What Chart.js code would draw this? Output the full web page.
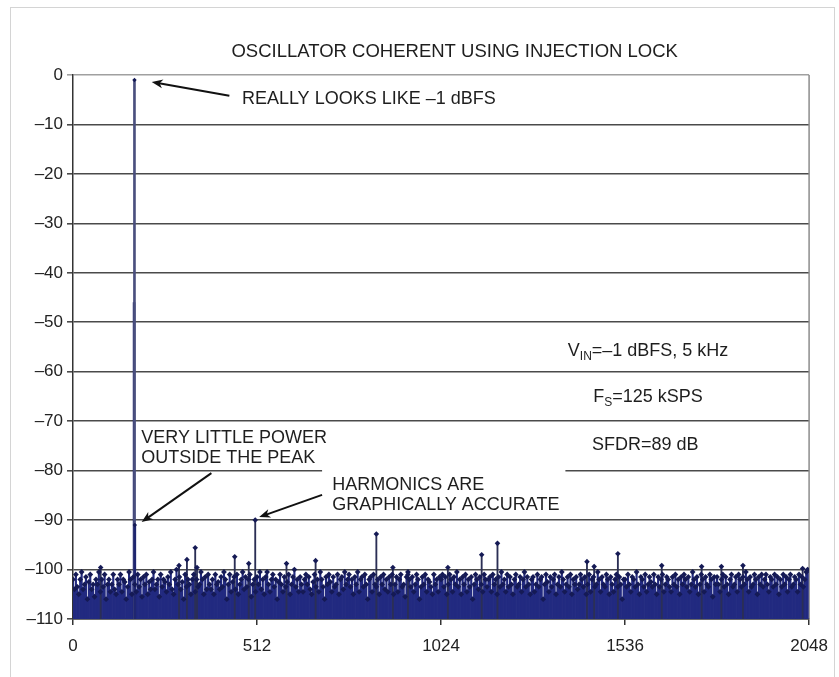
<!DOCTYPE html>
<html>
<head>
<meta charset="utf-8">
<title>Oscillator coherent using injection lock</title>
<script src="https://cdn.jsdelivr.net/npm/chart.js@4.4.1/dist/chart.umd.min.js"></script>
<style>
  html, body { margin: 0; padding: 0; background: #fff; }
  .frame { position: absolute; left: 10px; top: 7px; width: 823px; height: 720px; border: 1px solid #d4d4d4; }
  #fft { position: absolute; left: 0; top: 0; }
</style>
</head>
<body>
<div class="frame"></div>
<canvas id="fft" width="839" height="677"></canvas>
<script>
// FFT bins (x) and levels in dBFS (y)
const xTicks = [0, 512, 1024, 1536, 2048];
const yTicks = [0, -10, -20, -30, -40, -50, -60, -70, -80, -90, -100, -110];
const floorDb = -110;

// carrier, with its skirt bins
const peakBins = [170, 171, 172];
const peakDb = [-46, -1, -91];

// harmonics and larger spurs sticking out of the floor
const spurBins = [77, 295, 317, 340, 345, 450, 489, 507, 594, 675, 844, 890, 932, 1043, 1137, 1181, 1430, 1450, 1516, 1638, 1749, 1804, 1864, 2030];
const spurDb = [-99.6, -99.2, -98, -95.6, -99.6, -97.4, -98.8, -90, -98.8, -98.2, -92.8, -99.6, -101, -99.6, -97, -94.7, -98.4, -99.4, -96.8, -99.2, -99.4, -99.4, -99.2, -99.8];

// noise floor, one value every 4 bins (0 .. 2044)
const noiseStep = 4;
const noiseDb = [
  -102,-104,-101,-103.5,-105,-102,-100.5,-104,-103,-101.5,-106,-102.5,-101,-104,-103,-105.5,-102,-103,-100.5,-104.5,-102,-103.5,-101,-106,-103,-102,-104.5,-103,-101,-104,-105,-102,
  -103,-101,-104.5,-102,-102.5,-106,-103.5,-100.5,-102,-105,-101.5,-103,-104.5,-101,-103.5,-102,-105.5,-101.5,-103,-101,-105,-102.5,-104,-102,-100.5,-104,-103,-102,-105.5,-101,-103.5,-102,
  -102.5,-104.5,-101.5,-103,-100.5,-104,-105,-102,-100,-103,-101.5,-104,-102.5,-106,-101,-103.5,-102,-103,-105,-102,-101,-104.5,-102,-103.5,-103,-100.5,-102,-105,-101.5,-104,-101,-103,
  -104,-102,-105,-101,-103,-102.5,-104,-101.5,-103.5,-100.5,-102,-106,-103,-101,-104.5,-102.5,-101.5,-104,-101,-105,-103,-102,-100.5,-104,-101.5,-103.5,-102,-101,-105.5,-103,-102,-104.5,
  -101.5,-103,-100.5,-104,-102,-105,-101.5,-100.5,-103,-104.5,-102,-101,-103.5,-102,-106,-102.5,-101,-103,-104.5,-101.5,-103.5,-102.5,-101,-105,-103,-101.5,-100,-103.5,-102,-104.5,-101.5,-103,
  -104.5,-102,-101,-103,-101.5,-104,-105,-102.5,-101,-103.5,-102,-104.5,-100.5,-102,-103.5,-106,-101.5,-103,-101,-102.5,-104.5,-101.5,-103.5,-103,-101,-105,-102,-101.5,-104,-100.5,-103,-102,
  -101,-103.5,-102,-105,-101.5,-103,-100.5,-104.5,-102,-101.5,-103.5,-101,-103,-106,-102,-101.5,-104.5,-101,-103,-103.5,-102,-105,-101.5,-103,-101,-104,-102,-104.5,-101.5,-103,-101,-105,
  -103,-101.5,-104.5,-102,-101,-103.5,-103,-105.5,-101.5,-100.5,-102,-103.5,-101.5,-104.5,-103,-101,-102,-106,-103.5,-101.5,-103,-101,-104.5,-102,-102.5,-103.5,-105,-101,-103,-102,-104.5,-101.5,
  -102,-101,-103.5,-101.5,-105,-103,-101,-102,-104.5,-101.5,-103,-100.5,-103.5,-102,-105,-101.5,-103,-101,-104.5,-102,-103.5,-101.5,-106,-103,-101,-102,-104,-101.5,-103,-104.5,-101,-102,
  -103.5,-102,-101.5,-104.5,-101,-103,-102,-105,-101.5,-103.5,-100.5,-103,-102,-104.5,-101,-103.5,-101.5,-103,-105,-102,-101,-103.5,-103,-101.5,-104.5,-102,-100.5,-103.5,-101.5,-103,-105,-102,
  -101.5,-104.5,-103,-101,-103.5,-102,-101.5,-106,-103,-101,-102.5,-104.5,-101.5,-103.5,-102,-101,-105,-103,-101.5,-103.5,-100.5,-102,-104.5,-103,-101.5,-103.5,-101,-105,-102,-103,-101.5,-104,
  -103,-101,-102,-103.5,-101.5,-105,-103,-101,-104.5,-102,-101.5,-103.5,-103,-100.5,-102,-104.5,-101.5,-103,-103.5,-101,-102,-105,-101.5,-103,-104.5,-102,-101,-103.5,-101.5,-103,-106,-102,
  -102,-103.5,-101,-103,-104.5,-101.5,-102,-103.5,-100.5,-103,-105,-101.5,-102,-103.5,-101,-104.5,-103,-101.5,-102.5,-103.5,-101,-103,-105,-101.5,-103.5,-102,-101,-104.5,-103,-101.5,-102,-103.5,
  -104.5,-101.5,-103,-101,-103.5,-102,-105,-101.5,-103,-101,-102,-103.5,-101.5,-104.5,-103,-100.5,-102,-103.5,-101.5,-105,-103,-101,-102,-104.5,-101.5,-103,-103.5,-101,-102,-105.5,-101.5,-103,
  -101.5,-103,-104.5,-102,-101,-103.5,-101.5,-103,-105,-102,-101,-103.5,-103,-101.5,-104.5,-101,-102,-103.5,-101.5,-103,-100.5,-102,-104.5,-101.5,-103.5,-103,-101,-102,-105,-101.5,-103,-101,
  -103.5,-102,-101,-103,-104.5,-101.5,-102,-103.5,-101,-103,-101.5,-105,-102,-103.5,-101,-103,-101.5,-104.5,-102,-101,-103.5,-103,-101.5,-102,-104.5,-101,-103,-101.5,-103.5,-102,-100.5,-100
];

const NAVY = '#222a80';
const DARK = '#151a55';
const FONT = '"Liberation Sans", Arial, sans-serif';

const stems = (bins, vals) => bins.map((b, i) => ({ x: b, y: [floorDb, vals[i]] }));
const tops = (bins, vals) => bins.map((b, i) => ({ x: b, y: vals[i] }));
const noiseBins = noiseDb.map((v, i) => i * noiseStep);

// annotations, placed in data units (bin, dB)
const notes = [
  { lines: ['OSCILLATOR COHERENT USING INJECTION LOCK'], x: 1062, y: 4.7, align: 'center', size: 18.5 },
  { lines: ['REALLY LOOKS LIKE \u20131 dBFS'], x: 470, y: -4.9, align: 'left', size: 18 },
  { lines: ['VERY LITTLE POWER', 'OUTSIDE THE PEAK'], x: 190, y: -73.4, align: 'left', size: 18 },
  { lines: ['HARMONICS ARE', 'GRAPHICALLY ACCURATE'], x: 721, y: -82.9, align: 'left', size: 18 },
  { lines: ['V|IN|=\u20131 dBFS, 5 kHz'], x: 1600, y: -55.8, align: 'center', size: 18 },
  { lines: ['F|S|=125 kSPS'], x: 1600, y: -65.1, align: 'center', size: 18 },
  { lines: ['SFDR=89 dB'], x: 1592, y: -74.8, align: 'center', size: 18 }
];
const arrows = [
  { from: [435, -4.2], to: [219, -1.4] },
  { from: [385, -80.5], to: [191, -90.4] },
  { from: [693, -84.9], to: [518, -89.4] }
];
const whiteBox = { x0: 693, x1: 1370, y0: -79, y1: -89 };

function drawRich(ctx, str, x, y, size, align) {
  // "A|sub|B" -> A, subscript sub, B
  const parts = str.split('|');
  const big = size + 'px ' + FONT, small = Math.round(size * 0.68) + 'px ' + FONT;
  const widths = parts.map((p, i) => { ctx.font = i % 2 ? small : big; return ctx.measureText(p).width; });
  const total = widths.reduce((a, b) => a + b, 0);
  let cx = align === 'center' ? x - total / 2 : x;
  ctx.textAlign = 'left';
  parts.forEach((p, i) => {
    ctx.font = i % 2 ? small : big;
    ctx.fillText(p, cx, i % 2 ? y + size * 0.32 : y);
    cx += widths[i];
  });
}

const notesPlugin = {
  id: 'notes',
  beforeDatasetsDraw(chart) {
    const { ctx, scales: { x, y }, chartArea } = chart;
    ctx.save();
    ctx.fillStyle = '#fff';
    const bx = x.getPixelForValue(whiteBox.x0), by = y.getPixelForValue(whiteBox.y0);
    ctx.fillRect(bx, by, x.getPixelForValue(whiteBox.x1) - bx, y.getPixelForValue(whiteBox.y1) - by);
    // right frame of the plot
    ctx.strokeStyle = '#8c8c8c';
    ctx.lineWidth = 1.5;
    ctx.beginPath();
    ctx.moveTo(chartArea.right, chartArea.top);
    ctx.lineTo(chartArea.right, chartArea.bottom);
    ctx.stroke();
    ctx.restore();
  },
  afterDraw(chart) {
    const { ctx, scales: { x, y } } = chart;
    ctx.save();
    ctx.fillStyle = '#1e1e1e';
    ctx.textBaseline = 'middle';
    notes.forEach(n => {
      n.lines.forEach((ln, k) => {
        drawRich(ctx, ln, x.getPixelForValue(n.x), y.getPixelForValue(n.y) + k * 20, n.size, n.align);
      });
    });
    ctx.strokeStyle = '#111';
    ctx.fillStyle = '#111';
    ctx.lineWidth = 2;
    arrows.forEach(a => {
      const x0 = x.getPixelForValue(a.from[0]), y0 = y.getPixelForValue(a.from[1]);
      const x1 = x.getPixelForValue(a.to[0]), y1 = y.getPixelForValue(a.to[1]);
      const ang = Math.atan2(y1 - y0, x1 - x0);
      ctx.beginPath();
      ctx.moveTo(x0, y0);
      ctx.lineTo(x1 - 6 * Math.cos(ang), y1 - 6 * Math.sin(ang));
      ctx.stroke();
      ctx.beginPath();
      ctx.moveTo(x1, y1);
      ctx.lineTo(x1 - 12 * Math.cos(ang - 0.38), y1 - 12 * Math.sin(ang - 0.38));
      ctx.lineTo(x1 - 8 * Math.cos(ang), y1 - 8 * Math.sin(ang));
      ctx.lineTo(x1 - 12 * Math.cos(ang + 0.38), y1 - 12 * Math.sin(ang + 0.38));
      ctx.closePath();
      ctx.fill();
    });
    ctx.restore();
  }
};

new Chart(document.getElementById('fft'), {
  type: 'bar',
  data: {
    datasets: [
      { type: 'bar', data: stems(noiseBins, noiseDb), backgroundColor: NAVY, barThickness: 1.5, grouped: false, order: 5 },
      { type: 'bar', data: stems(spurBins, spurDb), backgroundColor: '#2b2f55', barThickness: 1.2, grouped: false, order: 4 },
      { type: 'bar', data: stems(peakBins, peakDb), backgroundColor: ['#1f2670', '#4a4f7e', '#1f2670'], barThickness: [2, 1, 2], grouped: false, order: 3 },
      { type: 'scatter', data: tops(noiseBins, noiseDb), pointStyle: 'rectRot', pointRadius: 2.9, backgroundColor: DARK, borderWidth: 0, order: 2 },
      { type: 'scatter', data: tops(spurBins, spurDb), pointStyle: 'rectRot', pointRadius: 2.8, backgroundColor: DARK, borderWidth: 0, order: 1 },
      { type: 'scatter', data: tops(peakBins, peakDb), pointStyle: 'rectRot', pointRadius: [0, 2.2, 2.2], backgroundColor: DARK, borderWidth: 0, order: 0 }
    ]
  },
  options: {
    responsive: false,
    animation: false,
    devicePixelRatio: 1,
    layout: { padding: { top: 75, right: 29, left: 0, bottom: 0 } },
    plugins: { legend: { display: false }, tooltip: { enabled: false } },
    scales: {
      x: {
        type: 'linear',
        min: 0, max: 2048,
        offset: false,
        afterFit: s => { s.height = 58; },
        grid: { offset: false, drawOnChartArea: false, tickLength: 6, color: '#333', lineWidth: 1.5 },
        border: { color: '#333', width: 1.5 },
        ticks: {
          stepSize: 512,
          autoSkip: false,
          color: '#222',
          font: { family: FONT, size: 17 },
          padding: 11,
          maxRotation: 0,
          callback: v => (xTicks.includes(v) ? String(v) : '')
        }
      },
      y: {
        min: floorDb, max: 0,
        afterFit: s => { s.width = 73; },
        grid: {
          tickLength: 6,
          color: c => (c.tick && c.tick.value === 0 ? '#a0a0a0' : '#4a4a4a'),
          lineWidth: 1.6
        },
        border: { color: '#333', width: 1.5 },
        ticks: {
          stepSize: 10,
          autoSkip: false,
          color: '#222',
          font: { family: FONT, size: 17 },
          padding: 4,
          callback: v => (yTicks.includes(v) ? (v === 0 ? '0' : '\u2013' + Math.abs(v)) : '')
        }
      }
    }
  },
  plugins: [notesPlugin]
});
</script>
</body>
</html>
